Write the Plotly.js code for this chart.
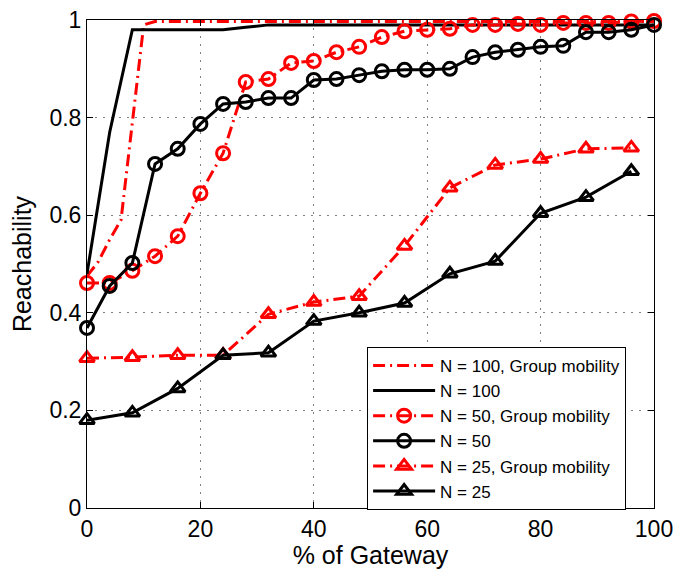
<!DOCTYPE html>
<html>
<head>
<meta charset="utf-8">
<script src="https://cdn.plot.ly/plotly-3.0.1.min.js"></script>
<style>html,body{margin:0;padding:0;background:#fff;}#chart{width:674px;height:569px;}</style>
</head>
<body>
<div id="chart"></div>
<script>
// ---- data ----
const xN100G = [0, 2, 4, 6, 8, 10, 12, 16, 20, 24, 28, 32, 36, 40, 44, 48, 52, 56, 60, 64, 68, 72, 76, 80, 84, 88, 92, 96, 100];
const yN100G = [0.475, 0.505, 0.55, 0.59, 0.79, 0.99, 0.997, 0.997, 0.997, 0.997, 0.997, 0.997, 0.997, 0.997, 0.997, 0.997, 0.997, 0.997, 0.997, 0.997, 0.997, 0.997, 0.997, 0.997, 0.997, 0.997, 0.997, 0.997, 0.997];

const xN100 = [0, 4, 8, 12, 16, 20, 24, 28, 32, 36, 40, 44, 48, 52, 56, 60, 64, 68, 72, 76, 80, 84, 88, 92, 96, 100];
const yN100 = [0.48, 0.77, 0.98, 0.98, 0.98, 0.98, 0.98, 0.985, 0.99, 0.99, 0.99, 0.99, 0.99, 0.99, 0.99, 0.99, 0.99, 0.99, 0.99, 0.99, 0.99, 0.99, 0.99, 0.99, 0.99, 0.99];

const xN50 = [0, 4, 8, 12, 16, 20, 24, 28, 32, 36, 40, 44, 48, 52, 56, 60, 64, 68, 72, 76, 80, 84, 88, 92, 96, 100];
const yN50G = [0.461, 0.461, 0.486, 0.516, 0.557, 0.645, 0.727, 0.873, 0.879, 0.912, 0.916, 0.934, 0.945, 0.965, 0.977, 0.98, 0.982, 0.99, 0.99, 0.992, 0.99, 0.994, 0.994, 0.994, 0.997, 0.998];
const yN50 = [0.369, 0.455, 0.502, 0.705, 0.736, 0.787, 0.828, 0.832, 0.84, 0.84, 0.877, 0.879, 0.887, 0.895, 0.898, 0.898, 0.9, 0.924, 0.934, 0.939, 0.945, 0.947, 0.975, 0.975, 0.98, 0.99];

const xN25 = [0, 8, 16, 24, 32, 40, 48, 56, 64, 72, 80, 88, 96];
const yN25G = [0.307, 0.309, 0.313, 0.313, 0.397, 0.422, 0.434, 0.537, 0.656, 0.703, 0.715, 0.736, 0.738];
const yN25 = [0.18, 0.195, 0.245, 0.313, 0.318, 0.383, 0.40, 0.42, 0.48, 0.506, 0.604, 0.637, 0.69];

const names = ['N = 100, Group mobility', 'N = 100', 'N = 50, Group mobility', 'N = 50', 'N = 25, Group mobility', 'N = 25'];
const xTicks = [0, 20, 40, 60, 80, 100];
const yTicks = [0, 0.2, 0.4, 0.6, 0.8, 1];
const yTickText = ['0', '0.2', '0.4', '0.6', '0.8', '1'];

// ---- styling ----
const RED = '#ff0000', BLK = '#000000';
const DASHDOT = '12px,5px,2px,5px';
const LW = 3;
function tr(x, y, name, color, dash, symbol) {
  const t = {
    x: x, y: y, name: name, type: 'scatter',
    mode: symbol ? 'lines+markers' : 'lines',
    line: {color: color, width: LW, dash: dash},
    cliponaxis: false
  };
  if (symbol) {
    t.marker = {symbol: symbol, size: 13, color: color, line: {color: color, width: 3}};
  }
  return t;
}

const data = [
  tr(xN100G, yN100G, names[0], RED, DASHDOT, null),
  tr(xN100, yN100, names[1], BLK, 'solid', null),
  tr(xN50, yN50G, names[2], RED, DASHDOT, 'circle-open'),
  tr(xN50, yN50, names[3], BLK, 'solid', 'circle-open'),
  tr(xN25, yN25G, names[4], RED, DASHDOT, 'triangle-up-open'),
  tr(xN25, yN25, names[5], BLK, 'solid', 'triangle-up-open')
];

const FONT = 'Liberation Sans, Arial, sans-serif';
const axisCommon = {
  showline: true, linecolor: '#000', linewidth: 1, mirror: 'ticks',
  ticks: 'inside', ticklen: 6, tickcolor: '#000', tickwidth: 1,
  showgrid: true, gridcolor: '#808080', gridwidth: 1, griddash: '2px,6px',
  zeroline: false,
  tickfont: {family: FONT, size: 23, color: '#000'}
};

const layout = {
  width: 674, height: 569,
  margin: {l: 87, r: 20, t: 20, b: 61},
  paper_bgcolor: '#fff', plot_bgcolor: '#fff',
  font: {family: FONT, color: '#000'},
  showlegend: true,
  xaxis: Object.assign({}, axisCommon, {
    range: [0, 100], tickvals: xTicks, ticktext: xTicks.map(String),
    title: {text: '% of Gateway', font: {family: FONT, size: 25, color: '#000'}, standoff: 2}
  }),
  yaxis: Object.assign({}, axisCommon, {
    range: [0, 1], tickvals: yTicks, ticktext: yTickText,
    title: {text: 'Reachability', font: {family: FONT, size: 25, color: '#000'}, standoff: 10}
  }),
  legend: {
    x: 0.494, y: 0.163, xanchor: 'left', yanchor: 'middle',
    bgcolor: '#fff', bordercolor: '#000', borderwidth: 1,
    font: {family: FONT, size: 17, color: '#000'},
    itemwidth: 62, tracegroupgap: 0
  }
};

Plotly.newPlot('chart', data, layout, {displayModeBar: false, staticPlot: true});
</script>
</body>
</html>
